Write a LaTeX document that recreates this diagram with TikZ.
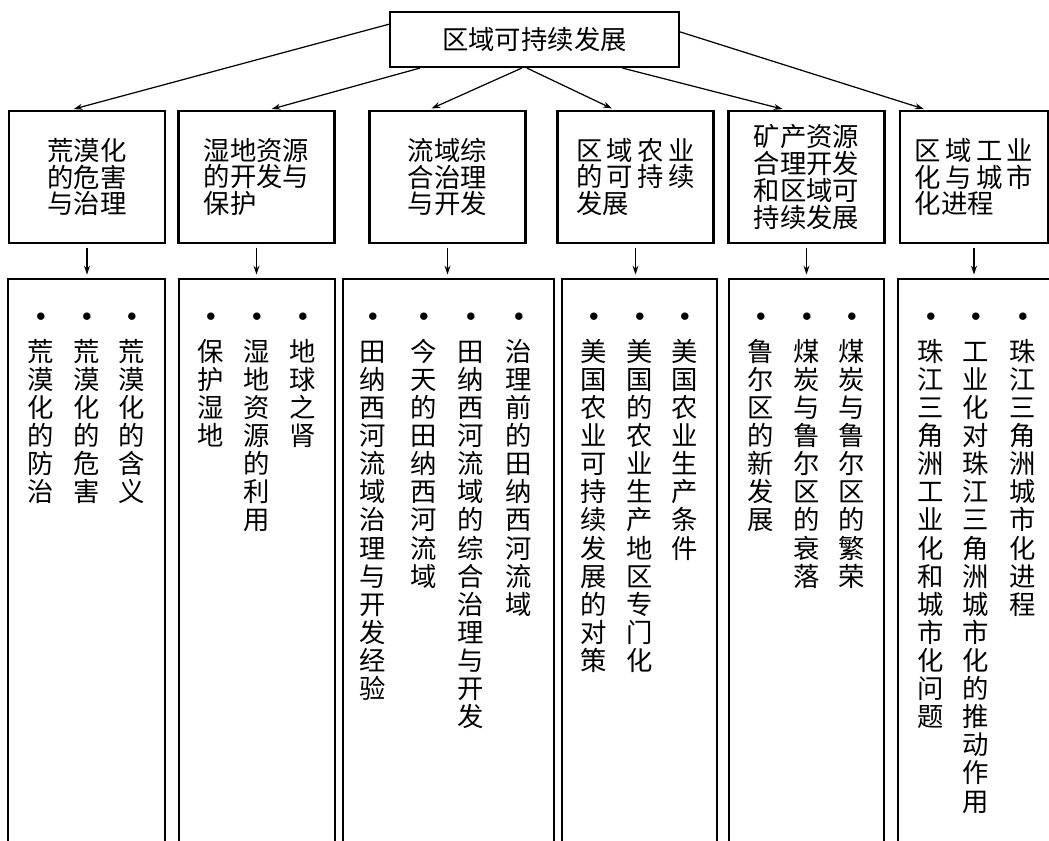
\documentclass[tikz,border=0pt]{standalone}
\usepackage{fontspec}
\newfontfamily\cjk{Noto Sans CJK SC}
\usetikzlibrary{arrows.meta}

\newcommand\dotmark{{\fontsize{11}{11}\selectfont$\bullet$}}
\newcommand\chgap{\hspace{2.5pt}}

\tikzset{
  box/.style={draw, line width=1.2pt},
  topbox/.style={box, minimum width=5.78cm, minimum height=1.1cm},
  subbox/.style={box, minimum width=3.12cm, minimum height=2.64cm, align=left,
    font=\cjk\fontsize{15}{15.2}\selectfont},
  listbox/.style={box, anchor=north, minimum height=12.4cm},
  item/.style={anchor=north, align=center},
  link/.style={-{Stealth[length=5pt,width=3.4pt]}, line width=0.7pt, shorten >=2pt},
}

\begin{document}
\begin{tikzpicture}[x=0.02cm, y=-0.02cm,
  every node/.style={font=\cjk\fontsize{15}{16}\selectfont, inner sep=0pt}]
\useasboundingbox (0,0) rectangle (1049,840);
\clip (0,0) rectangle (1049,840);

% top
\node[topbox] (top) at (534.5,39.5) {区域可持续发展};

% second row
\node[subbox] (r1) at (87,177) {荒漠化\\的危害\\与治理};
\node[subbox] (r2) at (256.5,177) {湿地资源\\的开发与\\保护};
\node[subbox] (r3) at (447.5,177) {流域综\\合治理\\与开发};
\node[subbox] (r4) at (635.5,177) {区\chgap 域\chgap 农\chgap 业\\的\chgap 可\chgap 持\chgap 续\\发展};
\node[subbox] (r5) at (806.5,177) {矿产资源\\合理开发\\和区域可\\持续发展};
\node[subbox, minimum width=2.96cm] (r6) at (974,177) {区\chgap 域\chgap 工\chgap 业\\化\chgap 与\chgap 城\chgap 市\\化进程};

% lists
\node[listbox, minimum width=3.14cm] (l1) at (86.5,278) {};
\node[listbox, minimum width=3.12cm] (l2) at (257,278) {};
\node[listbox, minimum width=4.22cm] (l3) at (448.5,278) {};
\node[listbox, minimum width=3.1cm] (l4) at (639.5,278) {};
\node[listbox, minimum width=3.1cm] (l5) at (806.5,278) {};
\node[listbox, minimum width=3.4cm] (l6) at (983,278) {};

\draw[link] (top.174.7) -- (r1.104);
\draw[link] (top.194) -- (r2.80);
\draw[link] (top.246) -- (r3.106);
\draw[link] (top.255) -- (r4.107);
\draw[link] (top.342) -- (r5.107);
\draw[link] (top.3) -- (r6.125);

\foreach \n in {1,...,6}
  \draw[link, shorten <=2pt] (r\n.south) -- (r\n.south |- l\n.north);

% items
\node[item] (a1) at (132,313) {\dotmark\\[6.4pt]荒\\漠\\化\\的\\含\\义};
\node[item] (a2) at (87,313) {\dotmark\\[6.4pt]荒\\漠\\化\\的\\危\\害};
\node[item] (a3) at (41,313) {\dotmark\\[6.4pt]荒\\漠\\化\\的\\防\\治};

\node[item] (b1) at (303,313) {\dotmark\\[6.4pt]地\\球\\之\\肾};
\node[item] (b2) at (257,313) {\dotmark\\[6.4pt]湿\\地\\资\\源\\的\\利\\用};
\node[item] (b3) at (211,313) {\dotmark\\[6.4pt]保\\护\\湿\\地};

\node[item] (c1) at (519,313) {\dotmark\\[6.4pt]治\\理\\前\\的\\田\\纳\\西\\河\\流\\域};
\node[item] (c2) at (471,313) {\dotmark\\[6.4pt]田\\纳\\西\\河\\流\\域\\的\\综\\合\\治\\理\\与\\开\\发};
\node[item] (c3) at (424,313) {\dotmark\\[6.4pt]今\\天\\的\\田\\纳\\西\\河\\流\\域};
\node[item] (c4) at (373,313) {\dotmark\\[6.4pt]田\\纳\\西\\河\\流\\域\\治\\理\\与\\开\\发\\经\\验};

\node[item] (d1) at (685,313) {\dotmark\\[6.4pt]美\\国\\农\\业\\生\\产\\条\\件};
\node[item] (d2) at (640,313) {\dotmark\\[6.4pt]美\\国\\的\\农\\业\\生\\产\\地\\区\\专\\门\\化};
\node[item] (d3) at (594,313) {\dotmark\\[6.4pt]美\\国\\农\\业\\可\\持\\续\\发\\展\\的\\对\\策};

\node[item] (e1) at (852,313) {\dotmark\\[6.4pt]煤\\炭\\与\\鲁\\尔\\区\\的\\繁\\荣};
\node[item] (e2) at (807,313) {\dotmark\\[6.4pt]煤\\炭\\与\\鲁\\尔\\区\\的\\衰\\落};
\node[item] (e3) at (761,313) {\dotmark\\[6.4pt]鲁\\尔\\区\\的\\新\\发\\展};

\node[item] (f1) at (1023,313) {\dotmark\\[6.4pt]珠\\江\\三\\角\\洲\\城\\市\\化\\进\\程};
\node[item] (f2) at (976,313) {\dotmark\\[6.4pt]工\\业\\化\\对\\珠\\江\\三\\角\\洲\\城\\市\\化\\的\\推\\动\\作\\用};
\node[item] (f3) at (931,313) {\dotmark\\[6.4pt]珠\\江\\三\\角\\洲\\工\\业\\化\\和\\城\\市\\化\\问\\题};
\end{tikzpicture}
\end{document}
